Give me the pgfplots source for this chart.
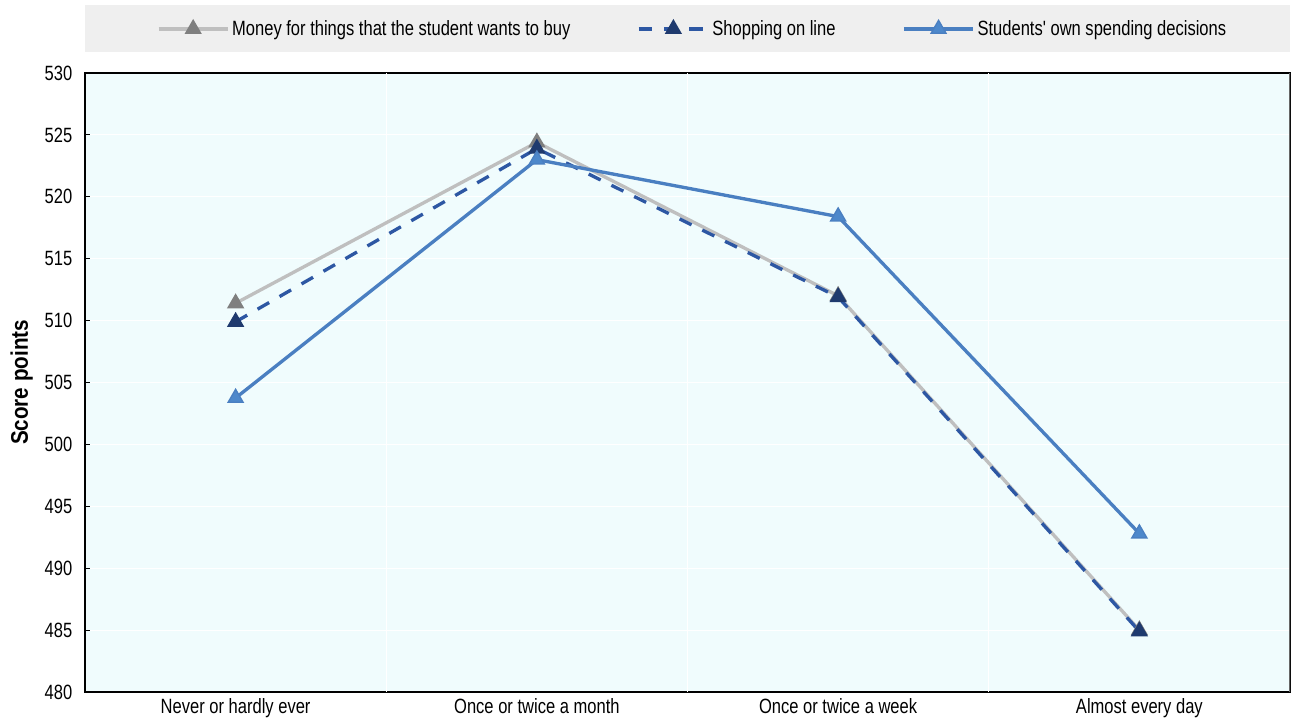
\documentclass[border=0pt]{standalone}
\usepackage{fontspec}
\setmainfont{Liberation Sans}[FakeStretch=0.8, Ligatures=TeXOff]
\newfontfamily\ylfont{Liberation Sans}[FakeStretch=0.86]
\usepackage{pgfplots}
\pgfplotsset{compat=1.18}
\definecolor{bgc}{HTML}{F0FCFD}
\definecolor{legbg}{HTML}{EFEFEF}
\definecolor{moneyline}{HTML}{BFBFBF}
\definecolor{moneymark}{HTML}{7F7F7F}
\definecolor{shopline}{HTML}{2D57A3}
\definecolor{shopmark}{HTML}{1F3A6E}
\definecolor{studline}{HTML}{4A7FC1}
\definecolor{studmark}{HTML}{4D88CB}
\begin{document}
\begin{tikzpicture}[x=1pt,y=1pt]
\path[use as bounding box] (0,0) rectangle (969.75,540);
\fill[legbg] (63.75,501) rectangle (967.5,536.25);
\begin{axis}[
  at={(63.75pt,21pt)}, anchor=south west,
  scale only axis, width=903.75pt, height=464.25pt,
  xmin=-0.5, xmax=3.5, ymin=480, ymax=530,
  ytick={480,485,...,530},
  xtick={0,1,2,3},
  xticklabels={Never or hardly ever, Once or twice a month, Once or twice a week, Almost every day},
  extra x ticks={0.5,1.5,2.5},
  extra x tick labels={},
  extra x tick style={grid=major, major tick length=4pt, tick style={black, line width=0.8pt}},
  major x tick style={draw=none},
  tick align=inside,
  xtick pos=bottom, ytick pos=left,
  ymajorgrids,
  grid style={white, line width=0.8pt},
  major tick length=4pt,
  tick style={black, line width=0.6pt},
  axis background/.style={fill=bgc},
  axis line style={black, line width=1pt},
  ylabel={Score points},
  ylabel style={font=\ylfont\fontsize{18}{20}\selectfont\bfseries, at={(ticklabel cs:0.5)}, yshift=2pt},
  ticklabel style={font=\fontsize{15.5}{17}\selectfont},
  /pgf/number format/assume math mode=true,
  yticklabel style={xshift=-6pt},
  xticklabel style={yshift=-1pt},
  legend style={at={(0.5,1.0)}, anchor=center, yshift=33pt, xshift=4pt, draw=none, fill=none,
    font=\fontsize{15.5}{17}\selectfont, legend columns=3,
    /tikz/every even column/.append style={column sep=48pt}},
  legend cell align=left,
  legend image code/.code={
    \draw[mark repeat=2, mark phase=2] plot coordinates {(0pt,0pt) (26pt,0pt) (52pt,0pt)};
  },
  every axis plot/.append style={mark=triangle*, mark size=6.5pt},
]
\addplot[color=moneyline, line width=2.5pt, mark options={solid, draw=moneymark, fill=moneymark, line width=1pt}]
  coordinates {(0,511.4) (1,524.4) (2,512.0) (3,485.0)};
\addlegendentry{Money for things that the student wants to buy}
\addplot[color=shopline, line width=2.5pt, dash pattern=on 10pt off 9pt, mark options={solid, draw=shopmark, fill=shopmark, line width=1pt}]
  coordinates {(0,509.9) (1,523.9) (2,511.9) (3,484.9)};
\addlegendentry{Shopping on line}
\addplot[color=studline, line width=2.5pt, mark options={solid, draw=studline, fill=studmark, line width=1pt}]
  coordinates {(0,503.75) (1,523.0) (2,518.4) (3,492.8)};
\addlegendentry{Students' own spending decisions}
\draw[color=gray!80!black, line width=1pt] (rel axis cs:1,0) -- (rel axis cs:1,1);
\end{axis}
\end{tikzpicture}
\end{document}
